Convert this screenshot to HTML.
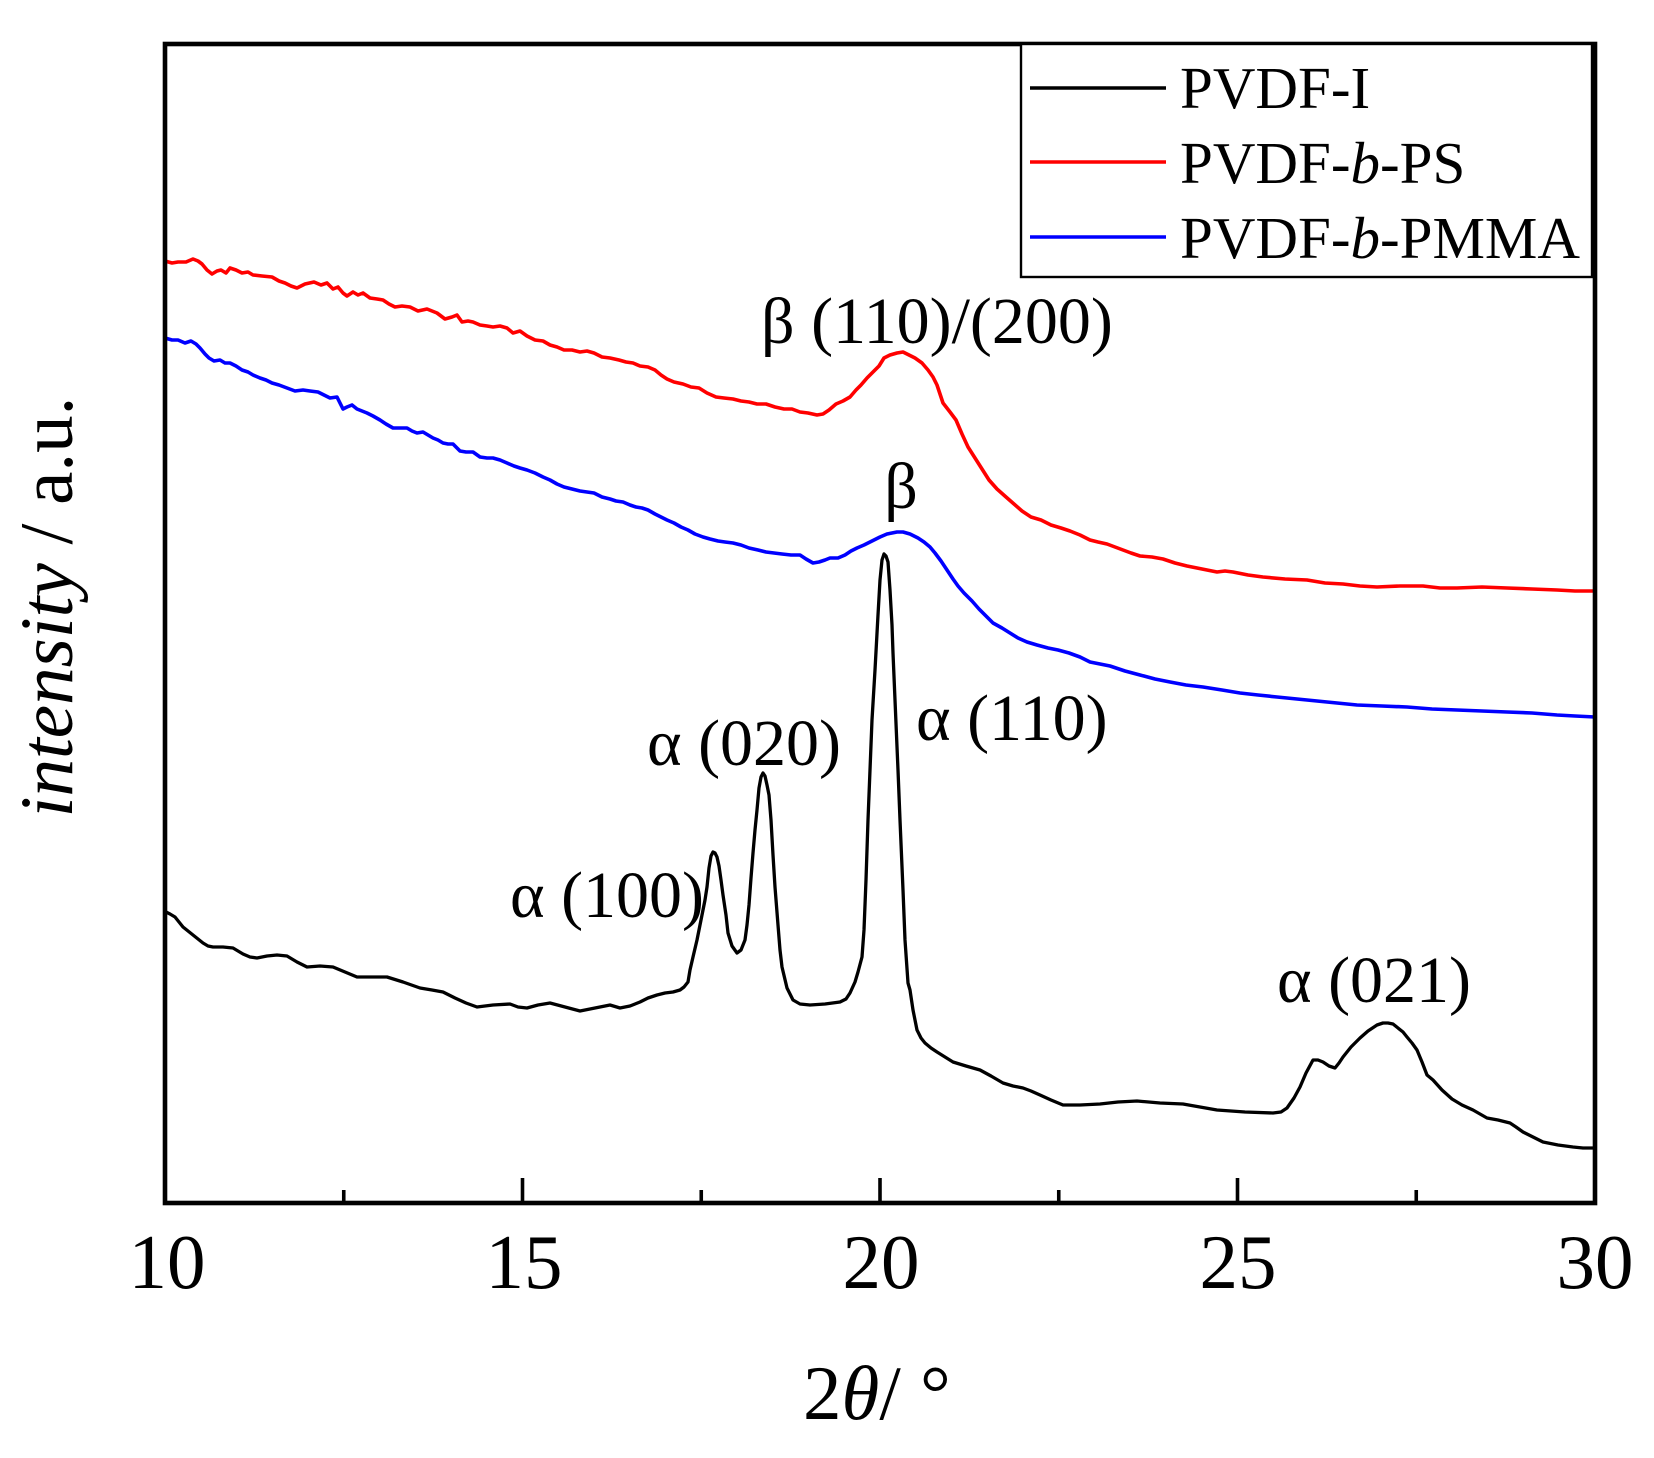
<!DOCTYPE html>
<html>
<head>
<meta charset="utf-8">
<style>
html,body{margin:0;padding:0;background:#fff;}
svg{display:block;}
text{font-family:"Liberation Serif","DejaVu Serif",serif;fill:#000;}
</style>
</head>
<body>
<svg width="1654" height="1458" viewBox="0 0 1654 1458" xmlns="http://www.w3.org/2000/svg">
<rect x="0" y="0" width="1654" height="1458" fill="#fff"/>

<!-- red curve -->
<polyline fill="none" stroke="#ff0000" stroke-width="3.6" stroke-linejoin="round" points="165,261 172,263 178,262 186,262 193,259 198,261 202,264 207,270 212,274 217,271 221,270 226,273 230,268 236,270 242,273 248,272 253,275 262,276 272,277 279,281 285,283 291,286 297,288 305,284 314,282 321,285 327,283 333,289 338,287 343,293 347,296 353,292 358,295 363,293 370,298 377,299 383,300 389,304 395,307 402,306 410,307 418,311 427,309 437,313 445,319 452,317 457,315 462,322 468,321 473,322 480,325 487,326 493,327 500,326 507,328 513,333 520,331 527,336 535,340 543,341 550,345 557,347 564,350 572,350 580,352 587,351 594,353 602,357 610,358 619,360 626,362 633,363 640,366 648,367 655,370 661,375 667,379 674,382 683,384 691,387 699,388 707,393 716,397 724,398 733,399 741,401 749,402 757,404 766,404 775,407 784,409 792,409 800,412 808,413 817,415 823,414 829,410 836,404 843,401 850,397 856,390 861,385 867,378 873,372 879,366 884,358 890,355 897,353 903,352 909,355 915,358 922,363 928,370 933,377 937,385 940,394 943,403 950,412 956,420 962,434 968,447 975,458 982,469 989,480 997,489 1006,497 1014,504 1022,511 1031,517 1041,520 1051,525 1061,528 1070,531 1080,535 1090,540 1098,542 1107,544 1115,547 1123,550 1131,553 1140,556 1152,557 1163,559 1175,563 1187,566 1202,569 1217,572 1225,571 1233,572 1248,575 1263,577 1285,579 1307,580 1325,583 1343,584 1360,586 1377,587 1400,586 1423,586 1440,588 1457,588 1482,587 1507,588 1532,589 1557,590 1575,591 1595,591"/>

<!-- blue curve -->
<polyline fill="none" stroke="#0000ff" stroke-width="3.6" stroke-linejoin="round" points="165,338 172,340 178,340 185,343 191,341 196,344 200,348 205,354 209,358 214,361 220,360 225,363 230,363 236,366 242,370 248,372 253,375 260,378 266,380 272,383 279,385 287,388 295,391 303,390 310,391 318,392 324,395 330,398 337,397 343,409 347,407 352,405 357,409 362,411 367,413 373,416 380,420 386,424 393,428 400,428 407,428 412,431 417,433 423,432 428,435 433,438 438,440 443,443 448,444 453,444 457,448 460,451 466,452 473,452 480,457 487,458 493,458 500,460 507,463 514,466 520,468 527,470 535,473 543,477 550,480 557,484 564,487 572,489 580,491 587,492 594,493 602,497 610,499 616,501 623,502 630,505 636,507 642,508 648,510 655,514 661,517 667,520 674,523 681,527 688,530 695,534 703,537 710,539 718,541 725,542 733,543 741,545 749,548 758,550 766,552 774,553 782,554 791,555 800,555 806,559 813,563 819,562 825,560 830,558 838,558 845,555 851,551 857,548 864,545 872,541 880,537 887,534 892,533 897,532 903,532 910,534 918,538 924,542 930,547 935,553 941,561 947,570 953,579 958,586 964,593 972,601 979,609 986,616 993,623 1002,628 1010,633 1018,638 1027,642 1037,645 1048,648 1058,650 1069,653 1080,657 1090,662 1100,664 1110,666 1125,671 1140,675 1155,679 1170,682 1186,685 1203,687 1222,690 1240,693 1258,695 1277,697 1297,699 1317,701 1337,703 1357,705 1382,706 1407,707 1432,709 1457,710 1482,711 1507,712 1532,713 1557,715 1575,716 1595,717"/>

<!-- black curve -->
<polyline fill="none" stroke="#000" stroke-width="3.3" stroke-linejoin="round" points="166,912 170,914 175,917 179,922 183,927 188,931 193,935 198,939 203,943 208,946 213,947 223,947 233,948 238,951 243,954 250,957 257,958 267,956 277,955 287,956 297,962 307,967 320,966 333,967 345,972 357,977 372,977 387,977 403,982 420,988 432,990 443,992 455,998 466,1003 477,1007 493,1005 510,1004 518,1007 527,1008 538,1005 550,1003 565,1007 580,1011 595,1008 610,1005 620,1008 630,1006 640,1002 648,998 657,995 665,993 673,992 680,990 684,987 688,982 690,970 693,957 697,940 700,925 702,915 705,900 707,887 709,868 711,856 713,852 715,853 717,857 719,866 721,880 723,895 726,915 728,933 732,946 737,953 741,950 745,940 747,925 749,905 751,878 753,853 755,830 757,810 759,788 761,777 763,773 765,776 767,785 769,795 771,820 773,855 775,887 778,925 780,950 782,967 787,988 793,1000 800,1004 810,1005 825,1004 840,1002 846,999 850,993 855,982 858,972 862,957 864,930 866,880 868,820 870,770 872,720 875,670 878,615 880,580 882,560 884,554 886,556 888,562 890,590 892,625 893,653 895,700 898,770 900,820 903,890 905,940 908,983 910,990 913,1010 917,1030 921,1038 925,1043 931,1048 937,1052 945,1057 953,1062 966,1066 980,1070 991,1076 1003,1083 1013,1086 1023,1088 1031,1091 1040,1095 1051,1100 1063,1105 1080,1105 1100,1104 1118,1102 1137,1101 1160,1103 1183,1104 1200,1107 1217,1110 1245,1112 1273,1113 1281,1112 1287,1108 1294,1098 1300,1087 1306,1073 1313,1060 1318,1060 1323,1062 1329,1066 1335,1068 1339,1063 1343,1057 1351,1047 1360,1038 1368,1031 1377,1025 1383,1023 1388,1023 1393,1024 1398,1028 1403,1032 1407,1037 1412,1043 1417,1050 1422,1062 1427,1075 1433,1080 1442,1090 1452,1099 1462,1105 1473,1110 1480,1114 1487,1118 1498,1120 1510,1123 1516,1127 1523,1132 1533,1137 1543,1142 1558,1145 1573,1147 1583,1148 1593,1148"/>

<!-- axes frame -->
<rect x="165" y="44" width="1430" height="1159" fill="none" stroke="#000" stroke-width="4.6"/>

<!-- ticks -->
<g stroke="#000" stroke-width="3.6">
<line x1="522.5" y1="1203" x2="522.5" y2="1178"/>
<line x1="880" y1="1203" x2="880" y2="1178"/>
<line x1="1237.5" y1="1203" x2="1237.5" y2="1178"/>
<line x1="343.75" y1="1203" x2="343.75" y2="1190"/>
<line x1="701.25" y1="1203" x2="701.25" y2="1190"/>
<line x1="1058.75" y1="1203" x2="1058.75" y2="1190"/>
<line x1="1416.25" y1="1203" x2="1416.25" y2="1190"/>
</g>

<!-- tick labels -->
<g font-size="77" text-anchor="middle">
<text x="167" y="1288">10</text>
<text x="524" y="1288">15</text>
<text x="881" y="1288">20</text>
<text x="1238" y="1288">25</text>
<text x="1595" y="1288">30</text>
</g>

<!-- axis labels -->
<text x="803" y="1419" font-size="77">2<tspan font-style="italic">θ</tspan>/ °</text>
<text transform="translate(72,607) rotate(-90)" text-anchor="middle" font-size="75"><tspan font-style="italic">intensity</tspan> / a.u.</text>

<!-- annotations -->
<g font-size="66">
<text x="761" y="343">β (110)/(200)</text>
<text x="901" y="508" text-anchor="middle">β</text>
<text x="916" y="740">α (110)</text>
<text x="647" y="765">α (020)</text>
<text x="510" y="917">α (100)</text>
<text x="1277" y="1002">α (021)</text>
</g>

<!-- legend -->
<rect x="1021" y="44" width="571" height="233" fill="#fff" stroke="#000" stroke-width="2.4"/>
<line x1="1030" y1="88" x2="1166" y2="88" stroke="#000" stroke-width="3.6"/>
<line x1="1030" y1="162" x2="1166" y2="162" stroke="#ff0000" stroke-width="3.6"/>
<line x1="1030" y1="237" x2="1166" y2="237" stroke="#0000ff" stroke-width="3.6"/>
<g font-size="59">
<text x="1180" y="108">PVDF-I</text>
<text x="1180" y="183">PVDF-<tspan font-style="italic">b</tspan>-PS</text>
<text x="1180" y="258">PVDF-<tspan font-style="italic">b</tspan>-PMMA</text>
</g>
</svg>
</body>
</html>
